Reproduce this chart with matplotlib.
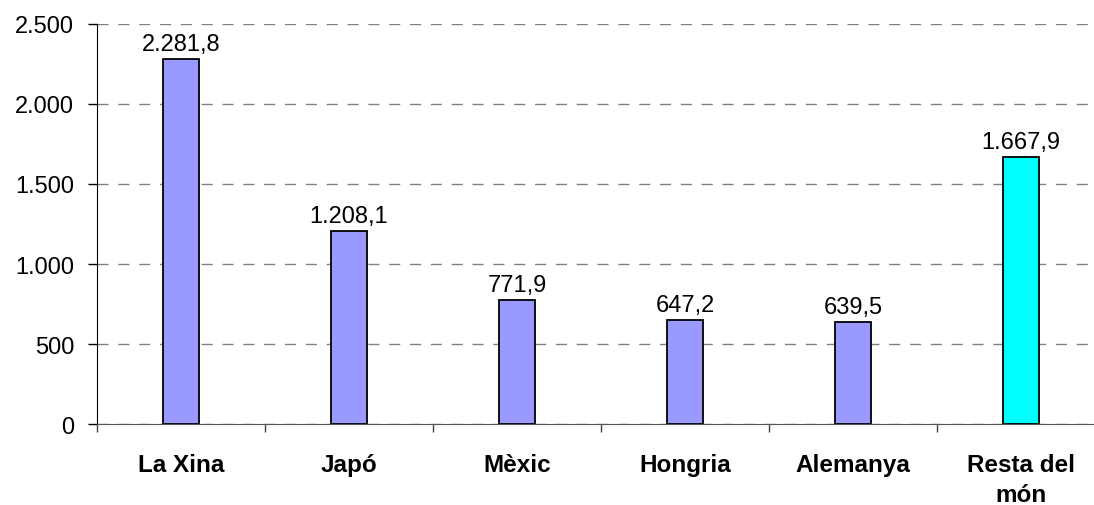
import matplotlib
matplotlib.use("Agg")
import matplotlib.pyplot as plt
from matplotlib.ticker import FuncFormatter, FixedLocator

categories = ["La Xina", "Japó", "Mèxic", "Hongria", "Alemanya", "Resta del\nmón"]
values = [2281.8, 1208.1, 771.9, 647.2, 639.5, 1667.9]
colors = ["#9999FF"] * 5 + ["#00FFFF"]
yticks = [0, 500, 1000, 1500, 2000, 2500]

plt.rcParams['font.family'] = ['Liberation Sans', 'DejaVu Sans']

fig = plt.figure(figsize=(10.94, 5.06), dpi=100)
ax = fig.add_axes([97/1094, 1-425/506, 1008/1094, (425-25)/506])

x = list(range(len(categories)))
bars = ax.bar(x, values, width=0.22, color=colors, edgecolor="black", linewidth=1.3, zorder=3)

def fmt_es(v, dec):
    s = f"{v:,.{dec}f}"
    return s.replace(",", "X").replace(".", ",").replace("X", ".")

for xi, v in zip(x, values):
    ax.annotate(fmt_es(v, 1), (xi, v), xytext=(0, 6.5), textcoords="offset points",
                ha="center", va="baseline", fontsize=17)

ax.set_xlim(-0.5, len(categories) - 0.5)
ax.set_ylim(0, 2500)
ax.set_yticks(yticks)
ax.yaxis.set_major_formatter(FuncFormatter(lambda v, p: fmt_es(v, 0)))
ax.yaxis.grid(True, linestyle=(0, (8, 7)), color="#808080", linewidth=1.0, zorder=0)

ax.xaxis.set_major_locator(FixedLocator([i - 0.5 for i in range(len(categories) + 1)]))
ax.xaxis.set_minor_locator(FixedLocator(x))
ax.set_xticklabels([])
ax.set_xticklabels(categories, minor=True, fontweight="bold", fontsize=17.5, linespacing=1.4)
ax.tick_params(axis="x", which="minor", length=0, pad=21)
ax.tick_params(axis="x", which="major", length=6, width=1, direction="out", color="#444444")
ax.tick_params(axis="y", length=6.5, width=1, labelsize=17, pad=10)

for s in ["top", "right"]:
    ax.spines[s].set_visible(False)
ax.spines["left"].set_color("black")
ax.spines["bottom"].set_color("#555555")

fig.savefig("out.png", dpi=100)
